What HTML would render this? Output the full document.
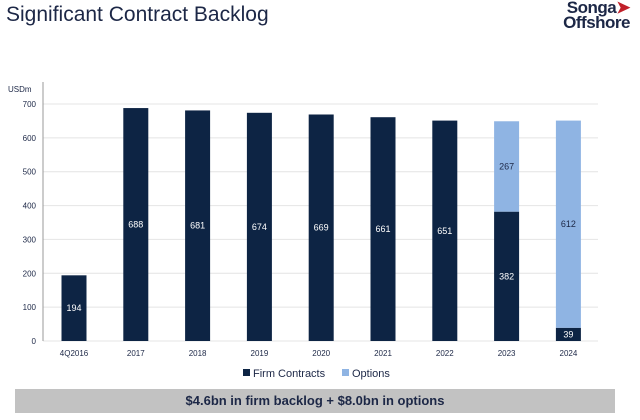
<!DOCTYPE html>
<html><head><meta charset="utf-8"><style>
body{margin:0;width:640px;height:420px;background:#fff;overflow:hidden;font-family:"Liberation Sans",sans-serif;position:relative}
#title{position:absolute;left:6px;top:3px;font-size:21px;color:#1c2746}
#logo{position:absolute;right:10px;top:0px;font-weight:bold;color:#1c2746;font-size:17px;line-height:15px;text-align:right;letter-spacing:-0.5px}
#banner{position:absolute;left:15px;top:389px;width:600px;height:24px;background:#c2c2c2;color:#1c2746;font-weight:bold;font-size:13px;text-align:center;line-height:24px}
</style></head><body>
<div id="title">Significant Contract Backlog</div>
<div id="logo">Songa<span style="color:#c0202a">&#10148;</span><br>Offshore</div>
<svg id="chart" width="640" height="420" style="position:absolute;left:0;top:0"></svg>
<div id="banner">$4.6bn in firm backlog + $8.0bn in options</div>
<script>
const categories=["4Q2016","2017","2018","2019","2020","2021","2022","2023","2024"];
const firm=[194,688,681,674,669,661,651,382,39];
const options=[0,0,0,0,0,0,0,267,612];
const yTicks=[0,100,200,300,400,500,600,700];
const svg=document.getElementById('chart');
const NS='http://www.w3.org/2000/svg';
const y0=341,y700=104,x0=43,x1=598;
const y=v=>y0-(v/700)*(y0-y700);
const x=i=>74+i*61.8;
function mk(t,a){const e=document.createElementNS(NS,t);for(const k in a)e.setAttribute(k,a[k]);svg.appendChild(e);return e;}
yTicks.forEach(t=>{
 const l=mk('line',{x1:x0,x2:x1,y1:y(t),y2:y(t),stroke:'#e4e4e4','stroke-width':1});
 
 
 const tx=mk('text',{x:36,y:y(t)+3,'font-size':8,fill:'#1c2746','text-anchor':'end'});tx.textContent=t;
 
 
});
const ax=mk('line',{x1:x0,x2:x0,y1:82,y2:y0,stroke:'#999','stroke-width':1});


const u=mk('text',{x:8,y:92,'font-size':8,fill:'#1c2746'});u.textContent='USDm';


const bw=25;
categories.forEach((c,i)=>{
 const f=mk('rect',{x:x(i)-bw/2,y:y(firm[i]),width:bw,height:y0-y(firm[i]),fill:'#0d2444'});
 
 
 const ft=mk('text',{x:x(i),y:(y(firm[i])+y0)/2+3,'font-size':9,fill:'#fff','text-anchor':'middle'});ft.textContent=firm[i];
 
 
 if(options[i]>0){
  const top=firm[i]+options[i];
  const o=mk('rect',{x:x(i)-bw/2,y:y(top),width:bw,height:y(firm[i])-y(top),fill:'#8fb4e3'});
  
  
  const ot=mk('text',{x:x(i),y:(y(top)+y(firm[i]))/2+3,'font-size':9,fill:'#1c2746','text-anchor':'middle'});ot.textContent=options[i];
  
  
 }
 const xl=mk('text',{x:x(i),y:356,'font-size':8,fill:'#1c2746','text-anchor':'middle'});xl.textContent=c;
 
 
});
const lg=[['Firm Contracts','#0d2444',243],['Options','#8fb4e3',342]];
lg.forEach(([n,col,lx])=>{
 const r=mk('rect',{x:lx,y:369,width:7,height:7,fill:col});
 
 
 const t=mk('text',{x:lx+10,y:377,'font-size':11,fill:'#1c2746'});t.textContent=n;
 
 
});
</script>
</body></html>
